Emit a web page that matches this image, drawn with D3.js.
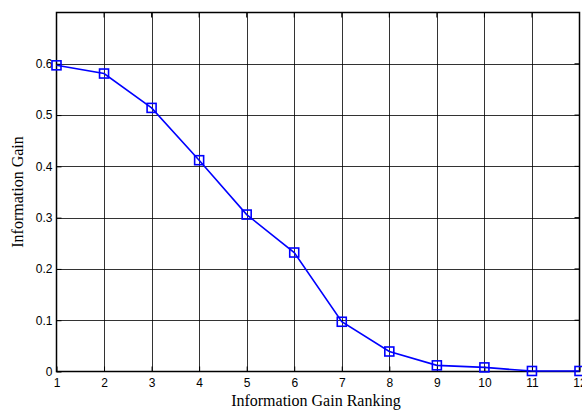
<!DOCTYPE html>
<html>
<head>
<meta charset="utf-8">
<script src="https://cdn.jsdelivr.net/npm/d3@7"></script>
<style>
  body { margin: 0; background: #fff; }
  svg { display: block; }
</style>
</head>
<body>
<div id="visArea"></div>
<script>
// data
var ranks = [1, 2, 3, 4, 5, 6, 7, 8, 9, 10, 11, 12]
var gains = [0.597, 0.581, 0.514, 0.412, 0.306, 0.232, 0.097, 0.039, 0.012, 0.008, 0.001, 0.001]
var xTicks = [1, 2, 3, 4, 5, 6, 7, 8, 9, 10, 11, 12]
var yTicks = [0, 0.1, 0.2, 0.3, 0.4, 0.5, 0.6]

var viewWidth = 582
var viewHeight = 412
// plot box (window.top is read only, so no bare "top")
var boxLeft = 56.5, boxRight = 579.5, boxTop = 12.5, boxBottom = 371.5

var xScale = d3.scaleLinear().domain([1, 12]).range([boxLeft, boxRight])
var yScale = d3.scaleLinear().domain([0, 0.7]).range([boxBottom, boxTop])

var svg = d3.select('#visArea')
  .append('svg')
  .attr('width', viewWidth)
  .attr('height', viewHeight)

// grid
svg.append('g')
  .selectAll('line')
  .data(xTicks.slice(1, -1))
  .join('line')
  .attr('x1', d => Math.round(xScale(d)) + 0.5)
  .attr('x2', d => Math.round(xScale(d)) + 0.5)
  .attr('y1', boxTop).attr('y2', boxBottom)
  .attr('stroke', '#000').attr('stroke-opacity', 0.8)

svg.append('g')
  .selectAll('line')
  .data(yTicks.slice(1))
  .join('line')
  .attr('y1', d => Math.round(yScale(d)) + 0.5)
  .attr('y2', d => Math.round(yScale(d)) + 0.5)
  .attr('x1', boxLeft).attr('x2', boxRight)
  .attr('stroke', '#000').attr('stroke-opacity', 0.8)

// axes, MATLAB style: ticks inside
var xAxis = d3.axisBottom(xScale).tickValues(xTicks).tickSizeInner(-5).tickSizeOuter(0).tickPadding(7)
var yAxis = d3.axisLeft(yScale).tickValues(yTicks).tickSizeInner(-5).tickSizeOuter(0).tickPadding(4)
  .tickFormat(d => d === 0 ? '0' : d3.format('.1f')(d))

svg.append('g')
  .attr('transform', 'translate(0,' + boxBottom + ')')
  .call(xAxis)
svg.append('g')
  .attr('transform', 'translate(' + boxLeft + ',0)')
  .call(yAxis)

svg.selectAll('.tick text')
  .attr('font-family', 'Liberation Sans, Arial, sans-serif')
  .attr('font-size', 12)
  .attr('fill', '#000')
svg.selectAll('.tick line').attr('stroke', '#000')
svg.selectAll('.domain').remove()

// top / right ticks
svg.append('g').selectAll('line').data(xTicks).join('line')
  .attr('x1', d => xScale(d)).attr('x2', d => xScale(d))
  .attr('y1', boxTop).attr('y2', boxTop + 5).attr('stroke', '#000')
svg.append('g').selectAll('line').data(yTicks).join('line')
  .attr('y1', d => yScale(d)).attr('y2', d => yScale(d))
  .attr('x1', boxRight).attr('x2', boxRight - 5).attr('stroke', '#000')

// box
svg.append('rect')
  .attr('x', boxLeft).attr('y', boxTop)
  .attr('width', boxRight - boxLeft).attr('height', boxBottom - boxTop)
  .attr('fill', 'none').attr('stroke', '#000').attr('stroke-width', 1.5)

// series
var points = ranks.map((r, i) => ({x: r, y: gains[i]}))
var lineGenerator = d3.line().x(d => xScale(d.x)).y(d => yScale(d.y))

svg.append('path')
  .datum(points)
  .attr('d', lineGenerator)
  .attr('fill', 'none')
  .attr('stroke', '#0000ff')
  .attr('stroke-width', 1.6)

svg.append('g')
  .selectAll('rect')
  .data(points)
  .join('rect')
  .attr('x', d => xScale(d.x) - 4.5)
  .attr('y', d => yScale(d.y) - 4.5)
  .attr('width', 9).attr('height', 9)
  .attr('fill', 'none')
  .attr('stroke', '#0000ff')
  .attr('stroke-width', 1.6)

// titles
svg.append('text')
  .attr('x', 316)
  .attr('y', 406)
  .attr('text-anchor', 'middle')
  .attr('font-family', 'Liberation Serif, Times New Roman, serif')
  .attr('font-size', 16)
  .text('Information Gain Ranking')

svg.append('text')
  .attr('transform', 'translate(23,' + (boxTop + boxBottom) / 2 + ') rotate(-90)')
  .attr('text-anchor', 'middle')
  .attr('font-family', 'Liberation Serif, Times New Roman, serif')
  .attr('font-size', 16)
  .text('Information Gain')
</script>
</body>
</html>
